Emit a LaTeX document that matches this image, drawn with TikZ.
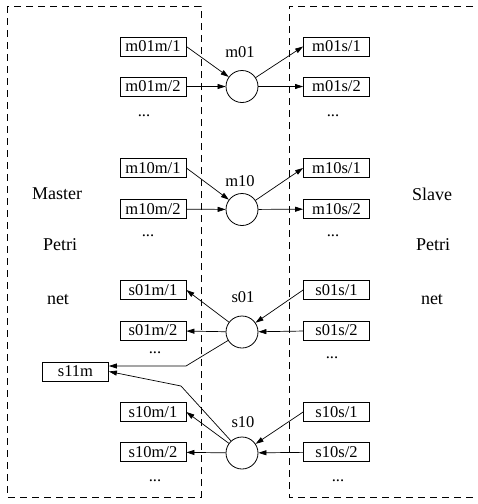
\documentclass[tikz,border=0pt]{standalone}
\usepackage{fontspec}
\setmainfont{Liberation Serif}
\usetikzlibrary{arrows.meta}
\begin{document}
\begin{tikzpicture}[x=1pt,y=-1pt,
  every node/.style={font=\fontsize{16.5}{19}\selectfont},
  place/.style={draw,line width=0.8pt,minimum width=66pt,minimum height=19pt,inner sep=0pt},
  trans/.style={draw,circle,line width=0.8pt,minimum size=32pt,inner sep=0pt},
  side/.style={font=\fontsize{18}{21}\selectfont},
  frame/.style={line width=0.8pt,dash pattern=on 7pt off 5pt},
  flow/.style={line width=0.7pt,-{Triangle[length=8pt,width=5pt]}}]
\useasboundingbox (0,0) rectangle (478,504);

% master and slave regions
\draw[frame] (7,6) rectangle (201,497);
\draw[frame] (485,6) -- (289,6) -- (289,497) -- (485,497);

\node[side] (lm) at (57,194) {Master};
\node[side] (lp) at (60,245) {Petri};
\node[side] (ln) at (58,300) {net};
\node[side] (rs) at (432,194) {Slave};
\node[side] (rp) at (433,245) {Petri};
\node[side] (rn) at (432,300) {net};

% transition m01
\node[trans] (m01) at (242,86.5) {};
\node (m01l) at (240,52) {m01};
\node[place] (m01m1) at (153,46.5) {m01m/1};
\node[place] (m01m2) at (153,86.5) {m01m/2};
\node[place] (m01s1) at (336.5,46.5) {m01s/1};
\node[place] (m01s2) at (336.5,86.5) {m01s/2};
\node (m01d1) at (144,116) {...};
\node (m01d2) at (333,116) {...};
\draw[flow] (m01m1.east) -- (m01);
\draw[flow] (m01m2) -- (m01);
\draw[flow] (m01) -- (m01s1.west);
\draw[flow] (m01) -- (m01s2);

% transition m10
\node[trans] (m10) at (242,209.5) {};
\node (m10l) at (240,181) {m10};
\node[place] (m10m1) at (153,168) {m10m/1};
\node[place] (m10m2) at (153,209) {m10m/2};
\node[place] (m10s1) at (336.5,168) {m10s/1};
\node[place] (m10s2) at (336.5,209) {m10s/2};
\node (m10d1) at (148,236) {...};
\node (m10d2) at (333,236) {...};
\draw[flow] (m10m1.east) -- (m10);
\draw[flow] (m10m2) -- (m10);
\draw[flow] (m10) -- (m10s1.west);
\draw[flow] (m10) -- (m10s2);

% transition s01
\node[trans] (s01) at (242,332) {};
\node (s01l) at (243,297) {s01};
\node[place] (s01m1) at (153,290) {s01m/1};
\node[place] (s01m2) at (153,330.5) {s01m/2};
\node[place] (s01s1) at (336.5,290) {s01s/1};
\node[place] (s01s2) at (336.5,330.5) {s01s/2};
\node (s01d1) at (155,353) {...};
\node (s01d2) at (332,358) {...};
\draw[flow] (s01s1.west) -- (s01);
\draw[flow] (s01s2) -- (s01);
\draw[flow] (s01) -- (s01m1.east);
\draw[flow] (s01) -- (s01m2);

% transition s10
\node[trans] (s10) at (242,453) {};
\node (s10l) at (243,422) {s10};
\node[place] (s10m1) at (153,412) {s10m/1};
\node[place] (s10m2) at (153,452) {s10m/2};
\node[place] (s10s1) at (336.5,412) {s10s/1};
\node[place] (s10s2) at (336.5,452) {s10s/2};
\node (s10d1) at (155,481) {...};
\node (s10d2) at (338,481) {...};
\draw[flow] (s10s1.west) -- (s10);
\draw[flow] (s10s2) -- (s10);
\draw[flow] (s10) -- (s10m1.east);
\draw[flow] (s10) -- (s10m2);

% shared place s11m
\node[place] (s11m) at (75.5,371.5) {s11m};
\coordinate (k1) at (186,366);
\coordinate (k2) at (181,386);
\draw[flow] (s01) -- (k1) -- (k1 -| s11m.east);
\draw[flow] (s10) -- (k2) -- (s11m.east);
\end{tikzpicture}
\end{document}
